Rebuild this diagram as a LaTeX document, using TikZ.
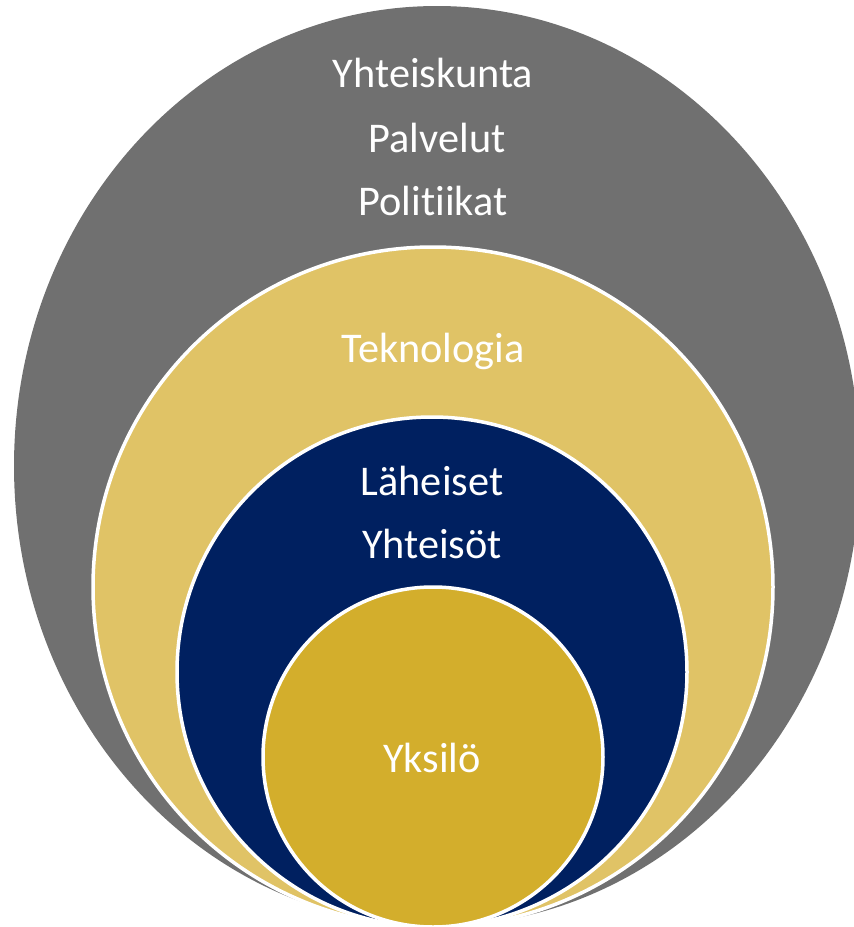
\documentclass[tikz,border=0pt]{standalone}
\usepackage{fontspec}
\setmainfont{Carlito}[Ligatures={NoCommon}]
\definecolor{ringgray}{HTML}{707070}
\definecolor{ringtan}{HTML}{E0C366}
\definecolor{ringnavy}{HTML}{002060}
\definecolor{ringgold}{HTML}{D3AE2C}

\begin{document}
\begin{tikzpicture}[x=1pt,y=-1pt,
  ring/.style={draw=white,line width=3.5pt},
  lbl/.style={text=white,anchor=base,inner sep=0pt,font=\fontsize{42.3}{50}\selectfont}]
\useasboundingbox (0,0) rectangle (854,927);
\clip (0,0) rectangle (854,927);
  \fill[ringgray] (437,466) ellipse[x radius=423,y radius=460];
  \draw[ring,fill=ringtan] (433,587) circle[radius=340];
  \draw[ring,fill=ringnavy] (432,672) circle[radius=255];
  \draw[ring,fill=ringgold] (433,757) circle[radius=170];

  \node[lbl] (yhteiskunta) at (433,87) {Yhteiskunta};
  \node[lbl] (palvelut) at (437,152) {Palvelut};
  \node[lbl] (politiikat) at (433,215) {Politiikat};
  \node[lbl] (teknologia) at (433,362) {Teknologia};
  \node[lbl] (laheiset) at (432,495) {Läheiset};
  \node[lbl] (yhteisot) at (432,558) {Yhteisöt};
  \node[lbl] (yksilo) at (432,772) {Yksilö};
\end{tikzpicture}
\end{document}
